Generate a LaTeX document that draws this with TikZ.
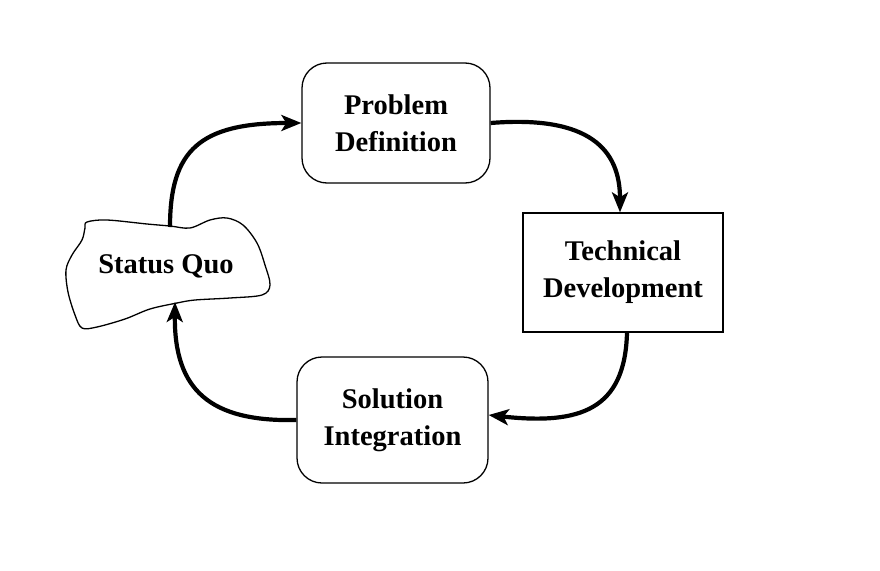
\documentclass[tikz,border=0pt]{standalone}
\usepackage{fontspec}
\setmainfont{Liberation Serif}
\usetikzlibrary{arrows.meta}
\tikzset{
  lbl/.style={font=\fontsize{28.5}{37}\selectfont\bfseries, align=center, inner sep=0pt},
  roundbox/.style={lbl, draw, line width=1.3pt, rounded corners=25pt},
  squarebox/.style={lbl, draw, line width=1.3pt},
  flow/.style={line width=4.2pt, -{Stealth[length=20pt,width=16pt,inset=5pt]}},
}
\begin{document}
\begin{tikzpicture}[x=1pt,y=-1pt]
\useasboundingbox (0,0) rectangle (880,570);
% Status Quo blob
\draw[line width=1.3pt] plot[smooth cycle, tension=0.55] coordinates {
 (87,222) (107,220) (147,224) (170,226) (190,228) (210,220) (227,218) (243,225)
 (257,243) (265,265) (270,285) (262,295) (230,298) (195,300) (177,303) (150,309)
 (125,319) (97,327) (82,328) (75,315) (68,292) (66,270) (72,255) (82,240) (85,228)};
\node[lbl] (sq) at (166,266) {Status Quo};
\coordinate (sqtop) at (170,227);
\coordinate (sqbot) at (175,302);
\node[roundbox, minimum width=188pt, minimum height=120pt] (pd) at (396,123) {Problem\\Definition};
\node[squarebox, minimum width=200pt, minimum height=119pt] (td) at (623,272.5) {Technical\\Development};
\node[roundbox, minimum width=191pt, minimum height=126pt] (si) at (392.5,420) {Solution\\Integration};
\draw[flow] (sqtop) .. controls (170,150) and (200,123) .. (pd.west);
\draw[flow] (pd.east) .. controls (590,115) and (620,150) .. ([xshift=-3pt]td.north);
\draw[flow] ([xshift=4pt]td.south) .. controls (625,410) and (580,425) .. ([yshift=5pt]si.east);
\draw[flow] (si.west) .. controls (210,422) and (174,390) .. (sqbot);
\end{tikzpicture}
\end{document}
